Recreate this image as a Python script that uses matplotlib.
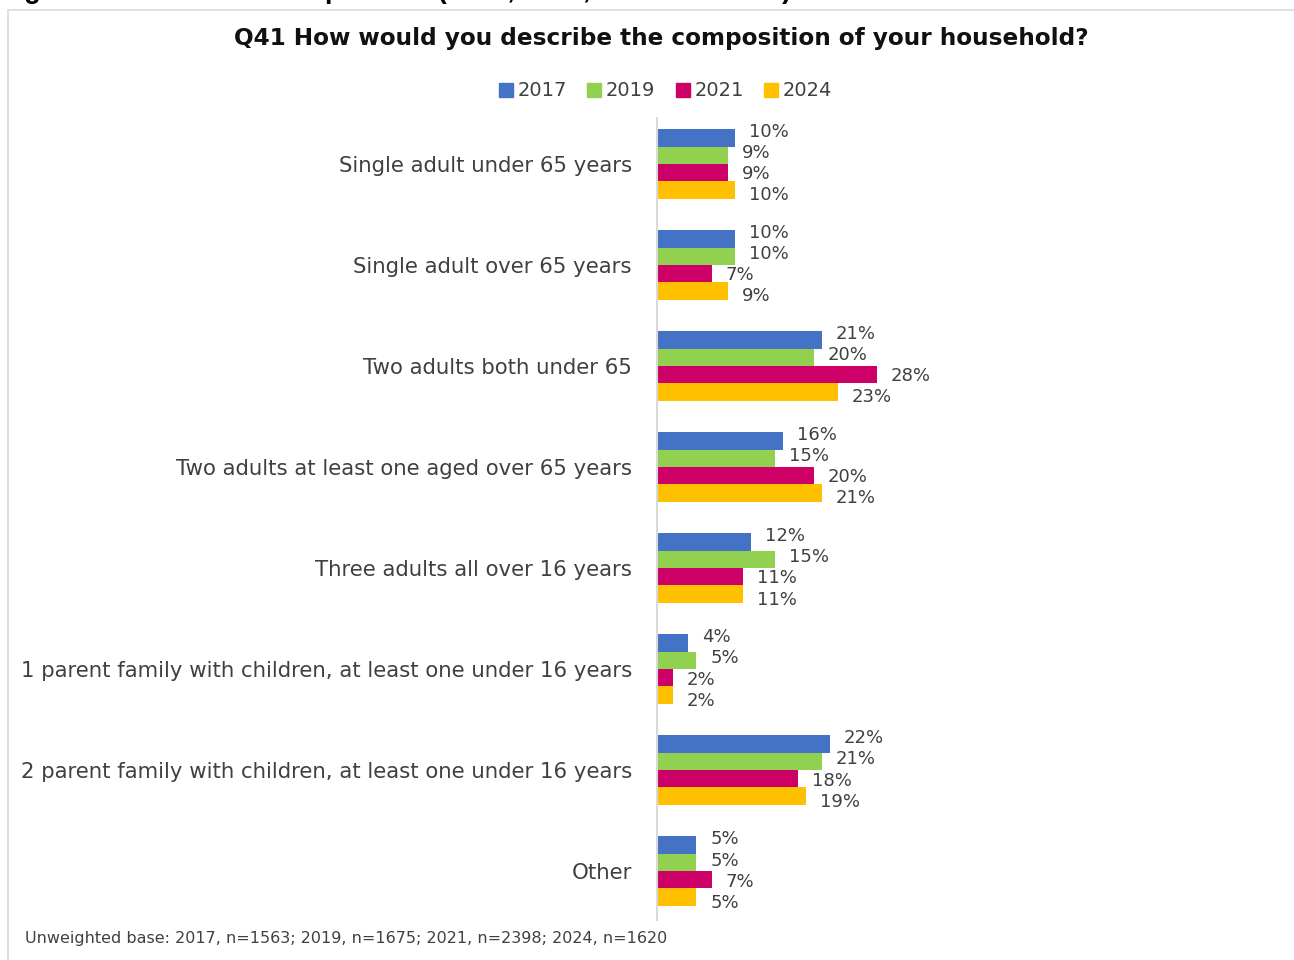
"""
Household composition by survey year: grouped horizontal bars (Q41).
Output: out.png
"""

import matplotlib.pyplot as plt
from matplotlib.lines import Line2D
import numpy as np

categories = [
    "Single adult under 65 years",
    "Single adult over 65 years",
    "Two adults both under 65",
    "Two adults at least one aged over 65 years",
    "Three adults all over 16 years",
    "1 parent family with children, at least one under 16 years",
    "2 parent family with children, at least one under 16 years",
    "Other",
]
years = ["2017", "2019", "2021", "2024"]
pct_2017 = [10, 10, 21, 16, 12, 4, 22, 5]
pct_2019 = [9, 10, 20, 15, 15, 5, 21, 5]
pct_2021 = [9, 7, 28, 20, 11, 2, 18, 7]
pct_2024 = [10, 9, 23, 21, 11, 2, 19, 5]
series = [pct_2017, pct_2019, pct_2021, pct_2024]

colors = ["#4472C4", "#92D050", "#CC0066", "#FFC000"]
TEXT = "#404040"
FONT = "DejaVu Sans"

W, H = 1294, 960
fig = plt.figure(figsize=(W / 100, H / 100), dpi=100)

# chart frame (left and top edges; the rest runs off the page)
fig.add_artist(Line2D([8 / W, 8 / W], [0, 1 - 10 / H], color="#d9d9d9", lw=1.2))
fig.add_artist(Line2D([8 / W, 1], [1 - 10 / H, 1 - 10 / H], color="#d9d9d9", lw=1.2))

# figure caption sits above the frame and is cut by the page edge
fig.text(0, 1 + 9 / H, "Figure 7: Household composition (2017, 2019, 2021 and 2024)",
         ha="left", va="center", fontsize=19.5, fontweight="bold", family="Liberation Sans")

fig.text(661 / W, 1 - 38 / H, "Q41 How would you describe the composition of your household?",
         ha="center", va="center", fontsize=16.7, fontweight="bold", family=FONT, color="#111111")

ax = fig.add_axes([657 / W, 1 - 920 / H, 314 / W, 802 / H])
n = len(categories)
y = np.arange(n)
bar_h = 0.171
for j, (vals, col) in enumerate(zip(series, colors)):
    off = (j - 1.5) * bar_h
    ax.barh(y + off, vals, height=bar_h, color=col, label=years[j])
    for i, v in enumerate(vals):
        # labels fan out a little wider than the bars, as in the source chart
        ax.annotate(f"{v}%", xy=(v, y[i] + (j - 1.5) * 0.208), xytext=(14, 0),
                    textcoords="offset pixels", ha="left", va="center",
                    fontsize=13, color=TEXT, family=FONT, annotation_clip=False)

ax.set_xlim(0, 40)
ax.set_ylim(n - 0.515, -0.455)
ax.set_xticks([])
ax.set_yticks(y)
ax.set_yticklabels(categories, fontsize=15.3, color=TEXT, family=FONT)
ax.tick_params(axis="y", length=0, pad=18)
for side in ["top", "right", "bottom"]:
    ax.spines[side].set_visible(False)
ax.spines["left"].set_color("#d9d9d9")
ax.spines["left"].set_linewidth(1.5)
ax.patch.set_alpha(0)

handles = [Line2D([], [], marker="s", ls="", color=c, markersize=10) for c in colors]
fig.legend(handles, years, loc="center", bbox_to_anchor=(665 / W, 1 - 91 / H), ncol=4,
           frameon=False, handlelength=0.8, handletextpad=0.2, columnspacing=1.0,
           prop={"family": FONT, "size": 14}, labelcolor=TEXT)

fig.text(25 / W, 1 - 939 / H,
         "Unweighted base: 2017, n=1563; 2019, n=1675; 2021, n=2398; 2024, n=1620",
         ha="left", va="center", fontsize=11.55, color=TEXT, family=FONT)

fig.savefig("out.png", dpi=100)
